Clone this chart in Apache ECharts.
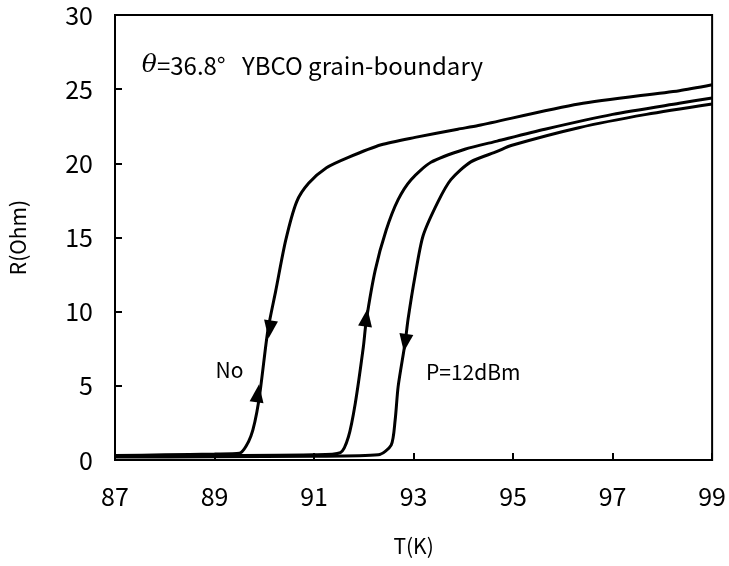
<!DOCTYPE html>
<html>
<head>
<meta charset="utf-8">
<script src="https://cdn.jsdelivr.net/npm/echarts@6/dist/echarts.min.js"></script>
<style>html,body{margin:0;padding:0;background:#fff}#c{width:729px;height:566px}</style>
</head>
<body>
<div id="c"></div>
<script>
// Curve "No" (no microwave power): temperature (K) and resistance (Ohm)
var noT = [87, 88, 89, 89.5, 89.73, 89.89, 90.07, 90.23, 90.43, 90.65, 90.89, 91.25, 91.69, 92.35, 93.03, 93.89, 94.3, 96.32, 98.34, 99];
var noR = [0.3, 0.35, 0.4, 0.45, 1.6, 4.0, 8.7, 11.4, 14.8, 17.4, 18.65, 19.7, 20.4, 21.25, 21.75, 22.3, 22.55, 24.0, 24.9, 25.3];
// P=12dBm, warming branch (up arrow)
var warmT = [87, 89, 91, 91.53, 91.69, 91.83, 91.99, 92.05, 92.23, 92.45, 92.69, 92.95, 93.35, 94.03, 94.68, 95.64, 97.0, 98.34, 99];
var warmR = [0.25, 0.3, 0.35, 0.5, 1.55, 3.85, 7.6, 9.4, 12.8, 15.5, 17.55, 18.9, 20.07, 20.95, 21.5, 22.3, 23.3, 24.05, 24.4];
// P=12dBm, cooling branch (down arrow)
var coolT = [87, 89, 91, 92.29, 92.55, 92.63, 92.69, 92.83, 92.89, 93.03, 93.19, 93.49, 93.75, 94.15, 94.68, 94.96, 96.32, 97.68, 99];
var coolR = [0.2, 0.22, 0.25, 0.35, 1.0, 2.7, 4.95, 7.9, 9.5, 12.4, 15.1, 17.4, 18.9, 20.1, 20.8, 21.2, 22.4, 23.3, 24.0];
// Arrow markers on the curves
var arrowT = [90.11, 89.87, 92.05, 92.83];
var arrowR = [8.8, 4.5, 9.6, 7.9];
var arrowDir = ['down', 'up', 'up', 'down'];
// Tick labels
var xTicks = [87, 89, 91, 93, 95, 97, 99];
var yTicks = [0, 5, 10, 15, 20, 25, 30];
// Annotations
var noteT = [87.54, 89.02, 93.25];
var noteR = [26.6, 6.1, 5.9];
var noteText = ['{i|θ}{b|=36.8°   YBCO grain-boundary}', '{s|No}', '{s|P=12dBm}'];

var FONT = '"Noto Sans CJK JP", "Noto Sans", sans-serif';

function zip(a, b) { return a.map(function (v, i) { return [v, b[i]]; }); }

var lineStyle = { color: '#000', width: 3 };
function curve(t, r) {
  return { type: 'line', data: zip(t, r), showSymbol: false, smooth: 0.25, lineStyle: lineStyle, silent: true, z: 3 };
}

var chart = echarts.init(document.getElementById('c'), null, { renderer: 'canvas' });
chart.setOption({
  animation: false,
  backgroundColor: '#fff',
  grid: { left: 115, right: 11, top: 15, bottom: 106, show: true, borderColor: '#000', borderWidth: 2 },
  xAxis: {
    type: 'value', min: xTicks[0], max: xTicks[xTicks.length - 1], interval: 2,
    name: 'T(K)', nameLocation: 'middle', nameGap: 76,
    nameTextStyle: { fontFamily: FONT, fontSize: 21, color: '#000' },
    axisLine: { show: true, lineStyle: { color: '#000', width: 2 } },
    axisTick: { show: true, inside: true, length: 7, lineStyle: { color: '#000', width: 2 } },
    axisLabel: { margin: 24, fontFamily: FONT, fontSize: 25, color: '#000' },
    splitLine: { show: false }
  },
  yAxis: {
    type: 'value', min: yTicks[0], max: yTicks[yTicks.length - 1], interval: 5,
    name: 'R(Ohm)', nameLocation: 'middle', nameGap: 86, nameRotate: 90,
    nameTextStyle: { fontFamily: FONT, fontSize: 21, color: '#000' },
    axisLine: { show: true, lineStyle: { color: '#000', width: 2 } },
    axisTick: { show: true, inside: true, length: 7, lineStyle: { color: '#000', width: 2 } },
    axisLabel: { margin: 22, fontFamily: FONT, fontSize: 25, color: '#000' },
    splitLine: { show: false }
  },
  series: [
    curve(noT, noR),
    curve(warmT, warmR),
    curve(coolT, coolR),
    {
      type: 'scatter', silent: true, z: 4,
      data: arrowT.map(function (t, i) {
        return { value: [t, arrowR[i]], symbolRotate: arrowDir[i] === 'up' ? -8 : 172 };
      }),
      symbol: 'triangle', symbolSize: [14, 18],
      itemStyle: { color: '#000', opacity: 1 }
    },
    {
      type: 'scatter', silent: true, z: 5,
      data: noteT.map(function (t, i) { return { value: [t, noteR[i]], name: noteText[i] }; }),
      symbolSize: 0,
      itemStyle: { opacity: 1 },
      label: {
        show: true, position: 'right', distance: 0,
        formatter: function (p) { return p.name; },
        fontFamily: FONT, fontSize: 22, color: '#000',
        rich: {
          i: { fontFamily: '"DejaVu Serif", "Liberation Serif", serif', fontStyle: 'italic', fontSize: 25, color: '#000' },
          b: { fontFamily: FONT, fontSize: 24, color: '#000' },
          s: { fontFamily: FONT, fontSize: 21, color: '#000' }
        }
      }
    }
  ]
});
</script>
</body>
</html>
